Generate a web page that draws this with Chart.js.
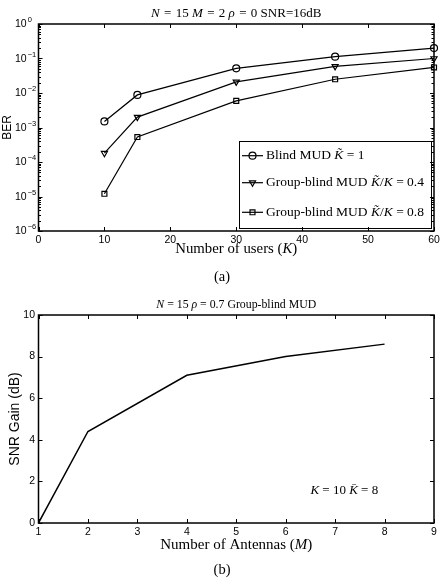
<!DOCTYPE html>
<html lang="en">
<head>
  <meta charset="UTF-8">
  <title>Blind vs. group-blind MUD</title>
  <script src="https://cdn.jsdelivr.net/npm/chart.js"></script>
  <style>
    body { margin: 0; background: #fff; }
    .panel { position: absolute; left: 0; width: 444px; }
    #panelA { top: 0; height: 290px; }
    #panelB { top: 290px; height: 288px; }
  </style>
</head>
<body>
  <div class="panel" id="panelA"><canvas id="berChart" width="444" height="290"></canvas></div>
  <div class="panel" id="panelB"><canvas id="gainChart" width="444" height="288"></canvas></div>

  <script>
    // (a) BER vs number of users
    const users = [10, 15, 30, 45, 60];
    const berBlind = [1.5e-3, 8.8e-3, 0.052, 0.113, 0.2];
    const berGroup04 = [1.8e-4, 2.0e-3, 0.021, 0.059, 0.10];
    const berGroup08 = [1.2e-5, 5.3e-4, 5.9e-3, 0.025, 0.055];
    const berTicks = [1e-6, 1e-5, 1e-4, 1e-3, 1e-2, 1e-1, 1];

    // (b) SNR gain vs number of antennas
    const antennas = [1, 2, 4, 6, 8];
    const snrGain = [0, 4.4, 7.1, 8.0, 8.6];

    const SERIF = '"Liberation Serif", "DejaVu Serif", serif';
    const SANS = '"Liberation Sans", Arial, sans-serif';
    const EQ = '\u2004=\u2004';

    // draws text made of [string, italic] pieces, like a small LaTeX line
    function richText(ctx, parts, x, y, size, align) {
      let total = 0;
      const widths = parts.map(p => {
        ctx.font = (p[1] ? 'italic ' : '') + size + 'px ' + SERIF;
        const w = ctx.measureText(p[0]).width;
        total += w;
        return w;
      });
      let cx = align === 'center' ? x - total / 2 : x;
      ctx.textAlign = 'left';
      ctx.textBaseline = 'middle';
      ctx.fillStyle = '#000';
      parts.forEach((p, i) => {
        ctx.font = (p[1] ? 'italic ' : '') + size + 'px ' + SERIF;
        ctx.fillText(p[0], cx, y);
        cx += widths[i];
      });
    }

    function toPoints(xs, ys) {
      return xs.map((v, i) => ({ x: v, y: ys[i] }));
    }

    // MATLAB-ish frame: box, inward ticks, titles and captions
    const framePlugin = {
      id: 'frame',
      afterDraw(chart, args, opts) {
        const { ctx, chartArea: a } = chart;
        const xs = chart.scales.x, ys = chart.scales.y;
        ctx.save();
        ctx.strokeStyle = '#000';

        ctx.lineWidth = 1;
        ctx.beginPath();
        xs.ticks.forEach(t => {
          const px = Math.round(xs.getPixelForValue(t.value)) + 0.5;
          ctx.moveTo(px, a.bottom); ctx.lineTo(px, a.bottom - 4);
          ctx.moveTo(px, a.top); ctx.lineTo(px, a.top + 4);
        });
        ys.ticks.forEach(t => {
          const py = Math.round(ys.getPixelForValue(t.value)) + 0.5;
          ctx.moveTo(a.left, py); ctx.lineTo(a.left + 4, py);
          ctx.moveTo(a.right, py); ctx.lineTo(a.right - 4, py);
        });
        if (opts.logMinor) {
          for (let d = -6; d < 0; d++) {
            for (let k = 2; k <= 9; k++) {
              const py = Math.round(ys.getPixelForValue(k * Math.pow(10, d))) + 0.5;
              ctx.moveTo(a.left, py); ctx.lineTo(a.left + 2.5, py);
              ctx.moveTo(a.right, py); ctx.lineTo(a.right - 2.5, py);
            }
          }
        }
        ctx.stroke();

        ctx.lineWidth = 1.5;
        ctx.strokeRect(a.left, a.top, a.right - a.left, a.bottom - a.top);

        // log tick labels as 10^n
        if (opts.logLabels) {
          ys.ticks.forEach(t => {
            const py = ys.getPixelForValue(t.value);
            const exp = Math.round(Math.log10(t.value));
            ctx.fillStyle = '#000';
            ctx.textAlign = 'left';
            ctx.textBaseline = 'middle';
            ctx.font = '10.5px ' + SANS;
            ctx.fillText('10', 15, py + 0.5);
            const w = ctx.measureText('10').width;
            ctx.font = '7.5px ' + SANS;
            ctx.fillText(exp === 0 ? '0' : '\u2212' + Math.abs(exp), 15 + w + 1, py - 4);
          });
        }

        const mid = (a.left + a.right) / 2;
        richText(ctx, opts.title, mid, opts.titleY, opts.titleSize, 'center');
        richText(ctx, opts.xlabel, mid, opts.xlabelY, opts.xlabelSize, 'center');
        richText(ctx, [[opts.caption, false]], 222, opts.captionY, 14.5, 'center');

        ctx.save();
        ctx.translate(opts.ylabelX, (a.top + a.bottom) / 2);
        ctx.rotate(-Math.PI / 2);
        ctx.font = opts.ylabelSize + 'px ' + SANS;
        ctx.textAlign = 'center';
        ctx.textBaseline = 'middle';
        ctx.fillStyle = '#000';
        ctx.fillText(opts.ylabel, 0, 0);
        ctx.restore();

        if (opts.legend) {
          const L = opts.legend;
          ctx.lineWidth = 1;
          ctx.strokeRect(L.x + 0.5, L.y + 0.5, L.w, L.h);
          chart.data.datasets.forEach((ds, i) => {
            const ly = L.rows[i];
            ctx.lineWidth = 1.2;
            ctx.beginPath();
            ctx.moveTo(L.x + 3, ly); ctx.lineTo(L.x + 24, ly);
            ctx.stroke();
            ctx.fillStyle = 'rgba(0,0,0,0)';
            Chart.helpers.drawPoint(ctx, {
              pointStyle: ds.pointStyle, rotation: ds.pointRotation || 0,
              radius: 3.5, borderWidth: 1.2
            }, L.x + 13.5, ly);
            richText(ctx, L.labels[i], L.x + 27, ly, 13.5, 'left');
          });
        }

        if (opts.note) {
          richText(ctx, opts.note.parts, xs.getPixelForValue(opts.note.x),
            ys.getPixelForValue(opts.note.y), 13, 'left');
        }
        ctx.restore();
      }
    };

    const lineStyle = {
      borderColor: '#000', borderWidth: 1.2,
      pointBorderColor: '#000', pointBackgroundColor: 'rgba(0,0,0,0)',
      pointRadius: 3.5, pointBorderWidth: 1.2, tension: 0, clip: false
    };

    new Chart(document.getElementById('berChart'), {
      type: 'line',
      data: {
        datasets: [
          Object.assign({ label: 'Blind MUD', data: toPoints(users, berBlind), pointStyle: 'circle' }, lineStyle),
          Object.assign({ label: 'Group-blind MUD 0.4', data: toPoints(users, berGroup04), pointStyle: 'triangle', pointRotation: 180 }, lineStyle),
          Object.assign({ label: 'Group-blind MUD 0.8', data: toPoints(users, berGroup08), pointStyle: 'rect', pointRadius: 3.2 }, lineStyle)
        ]
      },
      options: {
        responsive: false,
        animation: false,
        layout: { padding: { left: 0, right: 10, top: 24, bottom: 0 } },
        scales: {
          x: {
            type: 'linear', min: 0, max: 60,
            grid: { display: false, drawTicks: false }, border: { display: false },
            ticks: { stepSize: 10, padding: 3, color: '#000', maxRotation: 0, font: { family: SANS, size: 10.5 } },
            afterFit: s => { s.height = 59; }
          },
          y: {
            type: 'logarithmic', min: 1e-6, max: 1,
            grid: { display: false, drawTicks: false }, border: { display: false },
            ticks: { display: false },
            afterBuildTicks: s => { s.ticks = berTicks.map(v => ({ value: v })); },
            afterFit: s => { s.width = 38.5; }
          }
        },
        plugins: {
          legend: { display: false },
          tooltip: { enabled: false },
          frame: {
            title: [['N', true], [EQ + '15 ', false], ['M', true], [EQ + '2 ', false], ['\u03c1', true], [EQ + '0 SNR=16dB', false]],
            titleY: 14, titleSize: 13,
            xlabel: [['Number of users (', false], ['K', true], [')', false]],
            xlabelY: 249, xlabelSize: 14.8,
            caption: '(a)', captionY: 277,
            ylabel: 'BER', ylabelX: 8, ylabelSize: 12,
            logMinor: true, logLabels: true,
            legend: {
              x: 239, y: 141, w: 192, h: 87,
              rows: [155.7, 182.7, 212.3],
              labels: [
                [['Blind MUD ', false], ['K\u0303', true], [' = 1', false]],
                [['Group-blind MUD ', false], ['K\u0303', true], ['/', false], ['K', true], [' = 0.4', false]],
                [['Group-blind MUD ', false], ['K\u0303', true], ['/', false], ['K', true], [' = 0.8', false]]
              ]
            }
          }
        }
      },
      plugins: [framePlugin]
    });

    new Chart(document.getElementById('gainChart'), {
      type: 'line',
      data: {
        datasets: [{
          label: 'SNR gain', data: toPoints(antennas, snrGain),
          borderColor: '#000', borderWidth: 1.5, pointRadius: 0, tension: 0
        }]
      },
      options: {
        responsive: false,
        animation: false,
        layout: { padding: { left: 0, right: 10, top: 25, bottom: 0 } },
        scales: {
          x: {
            type: 'linear', min: 1, max: 9,
            grid: { display: false, drawTicks: false }, border: { display: false },
            ticks: { stepSize: 1, padding: 3, color: '#000', maxRotation: 0, font: { family: SANS, size: 10.5 } },
            afterFit: s => { s.height = 55; }
          },
          y: {
            type: 'linear', min: 0, max: 10,
            grid: { display: false, drawTicks: false }, border: { display: false },
            ticks: { stepSize: 2, padding: 3.5, color: '#000', font: { family: SANS, size: 10.5 } },
            afterFit: s => { s.width = 38.5; }
          }
        },
        plugins: {
          legend: { display: false },
          tooltip: { enabled: false },
          frame: {
            title: [['N', true], [' = 15 ', false], ['\u03c1', true], [' = 0.7 Group-blind MUD', false]],
            titleY: 15, titleSize: 11.8,
            xlabel: [['Number of Antennas (', false], ['M', true], [')', false]],
            xlabelY: 255, xlabelSize: 15,
            caption: '(b)', captionY: 280,
            ylabel: 'SNR Gain (dB)', ylabelX: 15, ylabelSize: 14,
            note: { x: 6.5, y: 1.55, parts: [['K', true], [' = 10 ', false], ['K\u0304', true], [' = 8', false]] }
          }
        }
      },
      plugins: [framePlugin]
    });
  </script>
</body>
</html>
